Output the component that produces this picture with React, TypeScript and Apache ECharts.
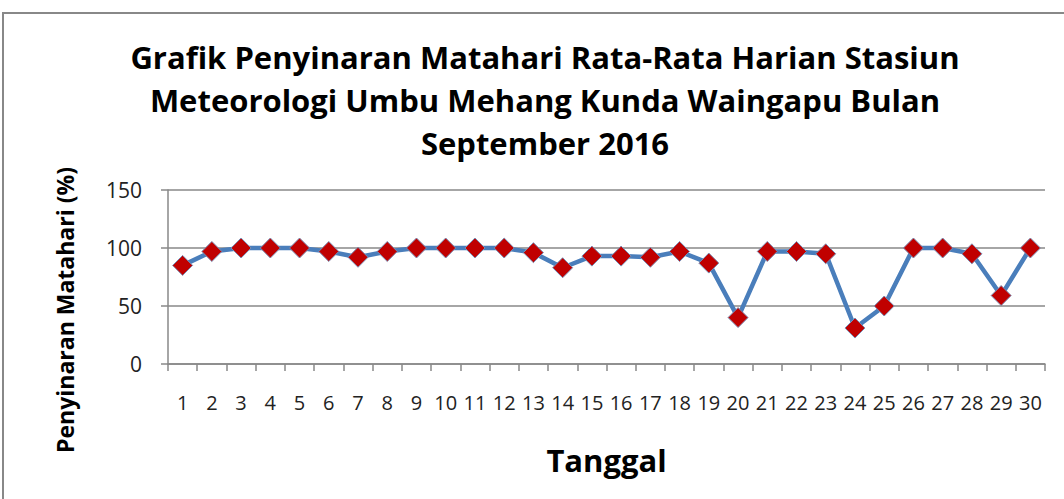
import React, { useEffect, useRef } from "react";
import * as echarts from "echarts";

const days = Array.from({ length: 30 }, (_, i) => String(i + 1));
const values = [85, 97, 100, 100, 100, 97, 92, 97, 100, 100, 100, 100, 96, 83, 93, 93, 92, 97, 87, 40, 97, 97, 95, 31, 50, 100, 100, 95, 59, 100];
const titleLines = [
  "Grafik Penyinaran Matahari Rata-Rata Harian Stasiun",
  "Meteorologi Umbu Mehang Kunda Waingapu Bulan",
  "September 2016",
];
const xName = "Tanggal";
const yName = "Penyinaran Matahari (%)";

export default function App() {
  const ref = useRef<HTMLDivElement>(null);
  useEffect(() => {
    const chart = echarts.init(ref.current!, null, { renderer: "svg" });
    const font = "'Open Sans', 'Liberation Sans', sans-serif";
    chart.setOption({
      animation: false,
      backgroundColor: "#fff",
      title: {
        text: titleLines.join("\n"),
        left: 540,
        textAlign: "center",
        top: 30,
        textStyle: { fontFamily: font, fontWeight: "bold", fontSize: 31, lineHeight: 43, color: "#000" },
      },
      graphic: [
        {
          type: "rect",
          shape: { x: 3, y: 13, width: 1070, height: 500 },
          style: { fill: "none", stroke: "#888", lineWidth: 2 },
          silent: true,
        },
        {
          type: "text",
          x: 65,
          y: 310,
          rotation: Math.PI / 2,
          style: {
            text: yName,
            fontFamily: font,
            fontWeight: "bold",
            fontSize: 23,
            fill: "#000",
            align: "center",
            verticalAlign: "middle",
          },
          silent: true,
        },
      ],
      grid: { left: 168, right: 19, top: 190, bottom: 135 },
      xAxis: {
        type: "category",
        data: days,
        boundaryGap: true,
        name: xName,
        nameLocation: "middle",
        nameGap: 80,
        nameTextStyle: { fontFamily: font, fontWeight: "bold", fontSize: 31, color: "#000" },
        axisLine: { lineStyle: { color: "#888", width: 1.5 } },
        axisTick: { show: true, length: 7, lineStyle: { color: "#888", width: 1.5 } },
        axisLabel: { interval: 0, fontFamily: font, fontSize: 20, color: "#222", margin: 28 },
      },
      yAxis: {
        type: "value",
        min: 0,
        max: 150,
        interval: 50,
        axisLine: { show: true, lineStyle: { color: "#888", width: 1.5 } },
        axisTick: { show: true, length: 7, lineStyle: { color: "#888", width: 1.5 } },
        axisLabel: { fontFamily: font, fontSize: 21, color: "#222", margin: 26 },
        splitLine: { lineStyle: { color: "#888", width: 1.5 } },
      },
      series: [
        {
          type: "line",
          data: values,
          symbol: "diamond",
          symbolSize: 20,
          lineStyle: { color: "#4a7ebb", width: 4.5 },
          itemStyle: { color: "#c00000", borderColor: "#7a8fb5", borderWidth: 1 },
        },
      ],
    });
    return () => chart.dispose();
  }, []);
  return (
    <div
      ref={ref}
      style={{ position: "fixed", left: 0, top: 0, width: 1064, height: 499 }}
    />
  );
}
